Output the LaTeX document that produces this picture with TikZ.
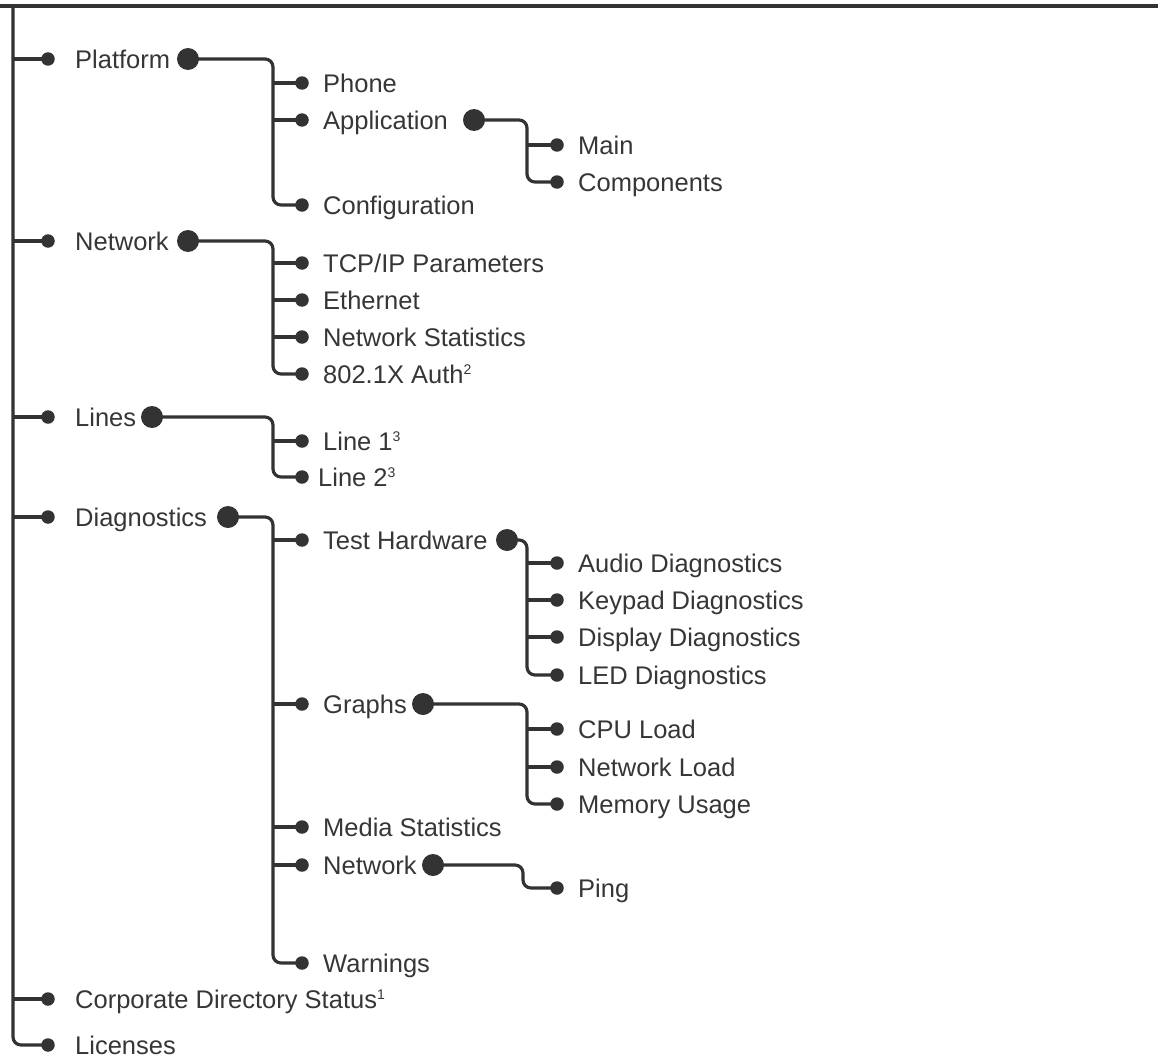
\documentclass[tikz,border=0pt]{standalone}
\usepackage{fontspec}
\setmainfont{Liberation Sans}
\definecolor{ink}{HTML}{333333}
\definecolor{txt}{HTML}{363636}
\newcommand\supnum[1]{\raisebox{8.5pt}{\fontsize{14}{14}\selectfont #1}}
\begin{document}
\begin{tikzpicture}[x=1pt,y=-1pt,
 conn/.style={draw=ink,line width=3.2pt,rounded corners=8pt},
 sdot/.style={circle,fill=ink,inner sep=0pt,minimum size=13.5pt},
 bdot/.style={circle,fill=ink,inner sep=0pt,minimum size=22pt},
 lbl/.style={anchor=west,inner sep=0pt,text=txt,text height=18.3pt,text depth=0pt,font=\fontsize{25.5}{30}\selectfont},
]
\useasboundingbox (0,0) rectangle (1158,1062);
% top rule
\coordinate (topL) at (0,6);
\coordinate (topR) at (1158,6);
\draw[ink,line width=3.5pt] (topL) -- (topR);
\coordinate (root) at (13,6);

% ---------- level 0 ----------
\node[sdot] (cPlat) at (48,59) {};
\node[lbl] (tPlat) at (75,59) {Platform};
\node[bdot] (dPlat) at (188,59) {};

\node[sdot] (cNet) at (48,241) {};
\node[lbl] (tNet) at (75,241) {Network};
\node[bdot] (dNet) at (188,241) {};

\node[sdot] (cLines) at (48,417) {};
\node[lbl] (tLines) at (75,417) {Lines};
\node[bdot] (dLines) at (152,417) {};

\node[sdot] (cDiag) at (48,517) {};
\node[lbl] (tDiag) at (75,517) {Diagnostics};
\node[bdot] (dDiag) at (228,517) {};

\node[sdot] (cCorp) at (48,999) {};
\node[lbl] (tCorp) at (75,999) {Corporate Directory Status\supnum{1}};

\node[sdot] (cLic) at (48,1045) {};
\node[lbl] (tLic) at (75,1045) {Licenses};

% trunk
\draw[conn] (root) |- (cLic.center);
\foreach \n in {cPlat,cNet,cLines,cDiag,cCorp}
  \draw[conn] (\n.center) -- (\n.center -| root);

% ---------- Platform ----------
\coordinate (vPlat) at (273,59);
\node[sdot] (cPhone) at (302,83) {};
\node[lbl] (tPhone) at (323,83) {Phone};
\node[sdot] (cApp) at (302,120) {};
\node[lbl] (tApp) at (323,120) {Application};
\node[bdot] (dApp) at (474,120) {};
\node[sdot] (cConf) at (302,205) {};
\node[lbl] (tConf) at (323,205) {Configuration};
\draw[conn] (dPlat.center) -- (vPlat) |- (cConf.center);
\foreach \n in {cPhone,cApp}
  \draw[conn] (\n.center) -- (\n.center -| vPlat);

% Application
\coordinate (vApp) at (527,120);
\node[sdot] (cMain) at (557,145) {};
\node[lbl] (tMain) at (578,145) {Main};
\node[sdot] (cComp) at (557,182) {};
\node[lbl] (tComp) at (578,182) {Components};
\draw[conn] (dApp.center) -- (vApp) |- (cComp.center);
\draw[conn] (cMain.center) -- (cMain.center -| vApp);

% ---------- Network ----------
\coordinate (vNet) at (273,241);
\node[sdot] (cTcp) at (302,263) {};
\node[lbl] (tTcp) at (323,263) {TCP/IP Parameters};
\node[sdot] (cEth) at (302,300) {};
\node[lbl] (tEth) at (323,300) {Ethernet};
\node[sdot] (cNStat) at (302,337) {};
\node[lbl] (tNStat) at (323,337) {Network Statistics};
\node[sdot] (cAuth) at (302,374) {};
\node[lbl] (tAuth) at (323,374) {802.1X Auth\supnum{2}};
\draw[conn] (dNet.center) -- (vNet) |- (cAuth.center);
\foreach \n in {cTcp,cEth,cNStat}
  \draw[conn] (\n.center) -- (\n.center -| vNet);

% ---------- Lines ----------
\coordinate (vLines) at (273,417);
\node[sdot] (cL1) at (302,441) {};
\node[lbl] (tL1) at (323,441) {Line 1\supnum{3}};
\node[sdot] (cL2) at (302,477) {};
\node[lbl] (tL2) at (318,477) {Line 2\supnum{3}};
\draw[conn] (dLines.center) -- (vLines) |- (cL2.center);
\draw[conn] (cL1.center) -- (cL1.center -| vLines);

% ---------- Diagnostics ----------
\coordinate (vDiag) at (273,517);
\node[sdot] (cTest) at (302,540) {};
\node[lbl] (tTest) at (323,540) {Test Hardware};
\node[bdot] (dTest) at (507,540) {};
\node[sdot] (cGraph) at (302,704) {};
\node[lbl] (tGraph) at (323,704) {Graphs};
\node[bdot] (dGraph) at (423,704) {};
\node[sdot] (cMedia) at (302,827) {};
\node[lbl] (tMedia) at (323,827) {Media Statistics};
\node[sdot] (cDNet) at (302,865) {};
\node[lbl] (tDNet) at (323,865) {Network};
\node[bdot] (dDNet) at (433,865) {};
\node[sdot] (cWarn) at (302,963) {};
\node[lbl] (tWarn) at (323,963) {Warnings};
\draw[conn] (dDiag.center) -- (vDiag) |- (cWarn.center);
\foreach \n in {cTest,cGraph,cMedia,cDNet}
  \draw[conn] (\n.center) -- (\n.center -| vDiag);

% Test Hardware
\coordinate (vTest) at (527,540);
\node[sdot] (cAud) at (557,563) {};
\node[lbl] (tAud) at (578,563) {Audio Diagnostics};
\node[sdot] (cKey) at (557,600) {};
\node[lbl] (tKey) at (578,600) {Keypad Diagnostics};
\node[sdot] (cDisp) at (557,637) {};
\node[lbl] (tDisp) at (578,637) {Display Diagnostics};
\node[sdot] (cLed) at (557,675) {};
\node[lbl] (tLed) at (578,675) {LED Diagnostics};
\draw[conn] (dTest.center) -- (vTest) |- (cLed.center);
\foreach \n in {cAud,cKey,cDisp}
  \draw[conn] (\n.center) -- (\n.center -| vTest);

% Graphs
\coordinate (vGraph) at (527,704);
\node[sdot] (cCpu) at (557,729) {};
\node[lbl] (tCpu) at (578,729) {CPU Load};
\node[sdot] (cNLoad) at (557,767) {};
\node[lbl] (tNLoad) at (578,767) {Network Load};
\node[sdot] (cMem) at (557,804) {};
\node[lbl] (tMem) at (578,804) {Memory Usage};
\draw[conn] (dGraph.center) -- (vGraph) |- (cMem.center);
\foreach \n in {cCpu,cNLoad}
  \draw[conn] (\n.center) -- (\n.center -| vGraph);

% Network (diagnostics)
\coordinate (vDNet) at (523,865);
\node[sdot] (cPing) at (557,888) {};
\node[lbl] (tPing) at (578,888) {Ping};
\draw[conn] (dDNet.center) -- (vDNet) |- (cPing.center);
\end{tikzpicture}
\end{document}
